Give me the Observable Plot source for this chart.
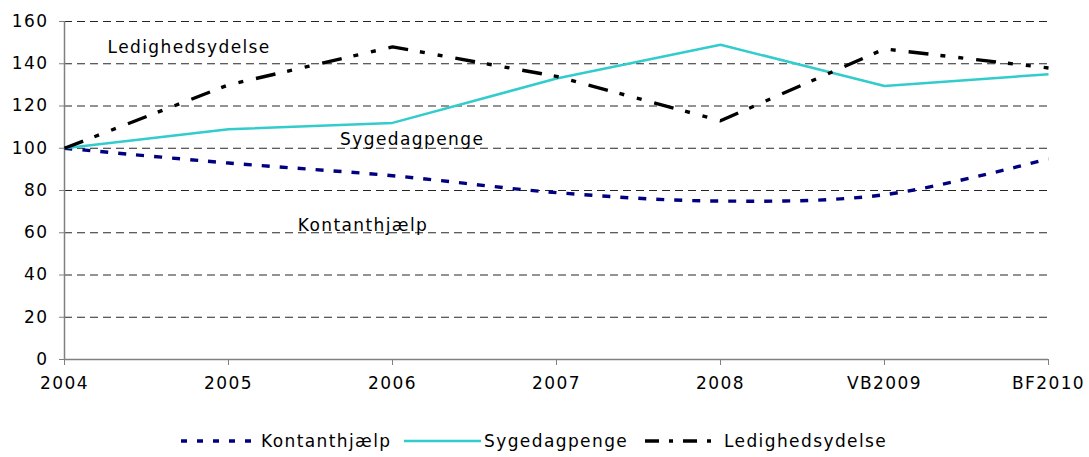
<!DOCTYPE html>
<html>
<head>
<meta charset="utf-8">
<script src="https://cdn.jsdelivr.net/npm/d3@7"></script>
<script src="https://cdn.jsdelivr.net/npm/@observablehq/plot@0.6"></script>
<style>
  body { margin: 0; background: #fff; font-family: "DejaVu Sans", Verdana, sans-serif; }
  #legend { height: 47px; font-size: 17px; letter-spacing: 1.4px; color: #000; position: relative; }
  .item { position: absolute; display: flex; align-items: center; white-space: nowrap; }
  svg text { letter-spacing: 1.4px; }
</style>
</head>
<body>
<div id="chart"></div>
<div id="legend"></div>
<script>
const categories = ["2004", "2005", "2006", "2007", "2008", "VB2009", "BF2010"];
const kontanthjaelp = [100, 93, 87, 79, 75, 78, 95];
const sygedagpenge = [100, 109, 112, 133, 149, 129.5, 135];
const ledighedsydelse = [100, 130, 148, 134, 113, 147, 138];
const yTicks = [0, 20, 40, 60, 80, 100, 120, 140, 160];
const seriesNames = ["Kontanthjælp", "Sygedagpenge", "Ledighedsydelse"];
// in-chart labels: category index position and value position
const labelNames = ["Ledighedsydelse", "Sygedagpenge", "Kontanthjælp"];
const labelX = [0.76, 2.12, 1.82];
const labelY = [147.5, 104, 63.5];

const styles = {
  "Kontanthjælp": {stroke: "#000080", strokeWidth: 3.4, strokeDasharray: "8,10", curve: "catmull-rom"},
  "Sygedagpenge": {stroke: "#33CCCC", strokeWidth: 2.5, strokeDasharray: null, curve: "linear"},
  "Ledighedsydelse": {stroke: "#000000", strokeWidth: 3.4, strokeDasharray: "20,12,5,13,5,13", curve: "linear"}
};

const seriesValues = [kontanthjaelp, sygedagpenge, ledighedsydelse];
const data = seriesNames.map((name, s) => seriesValues[s].map((v, i) => ({series: name, i, value: v})));
const labels = labelNames.map((t, k) => ({t, x: labelX[k], y: labelY[k]}));
const idx = categories.map((c, i) => i);

const chart = Plot.plot({
  width: 1089,
  height: 410,
  marginTop: 21,
  marginBottom: 51,
  marginLeft: 64,
  marginRight: 41,
  style: {fontFamily: "DejaVu Sans, Verdana, sans-serif", fontSize: "17px", color: "#000", background: "#fff"},
  x: {domain: [0, categories.length - 1], label: null},
  y: {domain: [0, 160], label: null},
  marks: [
    Plot.ruleY(yTicks.filter(d => d > 0), {stroke: "#000", strokeWidth: 1, strokeDasharray: "8,5", strokeOpacity: 0.85}),
    Plot.ruleY([0], {stroke: "#808080", strokeWidth: 1.5}),
    Plot.ruleX([0], {y1: 0, y2: 160, stroke: "#808080", strokeWidth: 1.5}),
    Plot.axisX(idx, {tickFormat: i => categories[i], tickSize: 6, tickPadding: 11, stroke: "#808080", fontSize: 17}),
    Plot.axisY(yTicks, {tickSize: 5, tickPadding: 11, stroke: "#808080", fontSize: 17}),
    ...data.map(d => {
      const st = styles[d[0].series];
      return Plot.line(d, {x: "i", y: "value", stroke: st.stroke, strokeWidth: st.strokeWidth,
        strokeDasharray: st.strokeDasharray, curve: st.curve, strokeLinecap: "butt"});
    }),
    Plot.text(labels, {x: "x", y: "y", text: "t", fontSize: 17, fill: "#000"})
  ]
});
document.getElementById("chart").appendChild(chart);

// legend
const legendPos = [[181, 261], [404, 484], [645, 724]];
const legend = document.getElementById("legend");
seriesNames.forEach((name, k) => {
  const st = styles[name];
  const sw = legendPos[k][1] - legendPos[k][0] - 3;
  const item = document.createElement("div");
  item.className = "item";
  item.style.left = legendPos[k][0] + "px";
  item.style.top = "21px";
  item.innerHTML = `<svg width="${sw}" height="12" style="margin-right:3px"><line x1="0" x2="${sw}" y1="6" y2="6" stroke="${st.stroke}" stroke-width="${st.strokeWidth}" ${st.strokeDasharray ? `stroke-dasharray="${name === "Kontanthjælp" ? "6,10" : "14,10,4,10"}"` : ""}/></svg><span>${name}</span>`;
  legend.appendChild(item);
});
</script>
</body>
</html>
